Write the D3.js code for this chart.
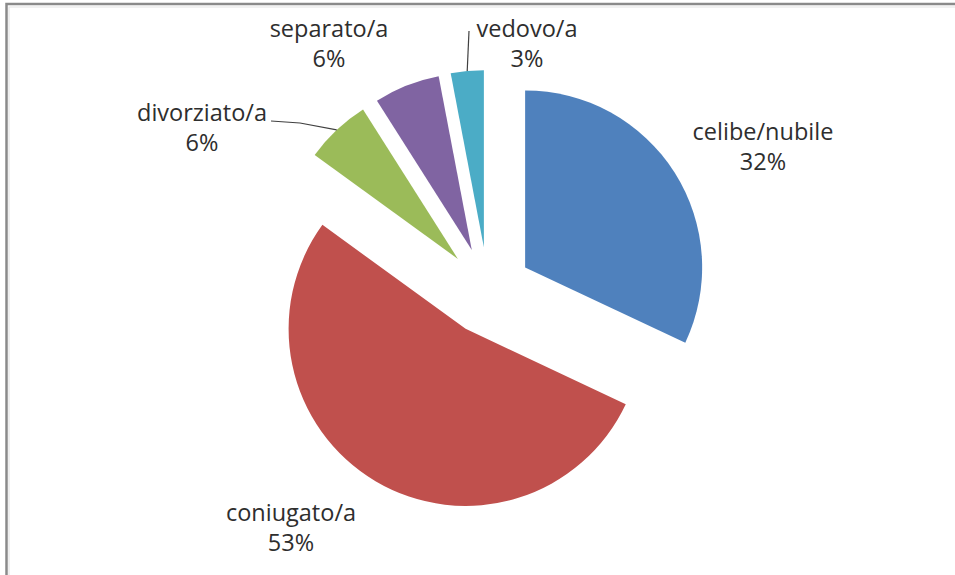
<!DOCTYPE html>
<html>
<head>
<meta charset="utf-8">
<script src="https://cdn.jsdelivr.net/npm/d3@7"></script>
<style>
  html, body { margin: 0; padding: 0; background: #fff; }
  svg { display: block; }
  .lbl { font-family: "Open Sans", "Noto Sans", sans-serif; font-size: 23.5px; fill: #2e2e2e; }
</style>
</head>
<body>
<svg id="chart" width="955" height="575"></svg>
<script>
// Stato civile: share of respondents (%)
const categories = ["celibe/nubile", "coniugato/a", "divorziato/a", "separato/a", "vedovo/a"];
const values = [32, 53, 6, 6, 3];
const colors = ["#4F81BD", "#C0504D", "#9BBB59", "#8064A2", "#4BACC6"];

// label layout: centre of each two-line label, and whether it gets a leader line
const labelLayout = [
  { x: 763, y: 132, leader: false },
  { x: 291, y: 513, leader: false },
  { x: 202, y: 113, leader: true, anchor: [271, 121], bend: [300, 123] },
  { x: 329, y: 29, leader: false },
  { x: 527, y: 29, leader: true, anchor: [469, 31] }
];

const W = 955, H = 575;
const cx = 488, cy = 291;      // pie centre
const radius = 177;
const explode = 44;            // every slice is pulled out along its bisector

const svg = d3.select("#chart");

// frame
svg.append("path")
  .attr("d", `M6.5,${H} V4 H${W}`)
  .attr("fill", "none")
  .attr("stroke", "#8a8a8a")
  .attr("stroke-width", 2.5);
svg.append("path")
  .attr("d", `M9,${H} V7 H${W}`)
  .attr("fill", "none")
  .attr("stroke", "#e4e4e4")
  .attr("stroke-width", 1.2);

const data = categories.map((c, i) => ({ name: c, value: values[i], color: colors[i], layout: labelLayout[i] }));

const pie = d3.pie().value(d => d.value).sort(null);
const arc = d3.arc().innerRadius(0).outerRadius(radius);
const arcs = pie(data);

function offset(a) {
  const m = (a.startAngle + a.endAngle) / 2;
  return [explode * Math.sin(m), -explode * Math.cos(m)];
}

const g = svg.append("g").attr("transform", `translate(${cx},${cy})`);

g.selectAll("path.slice")
  .data(arcs)
  .join("path")
  .attr("class", "slice")
  .attr("transform", a => { const [dx, dy] = offset(a); return `translate(${dx},${dy})`; })
  .attr("d", arc)
  .attr("fill", a => a.data.color);

// leader lines run from the label to the middle of the slice's outer edge
arcs.forEach(a => {
  const L = a.data.layout;
  if (!L.leader) return;
  const [dx, dy] = offset(a);
  const m = (a.startAngle + a.endAngle) / 2;
  const ex = cx + dx + radius * Math.sin(m);
  const ey = cy + dy - radius * Math.cos(m);
  const pts = [L.anchor];
  if (L.bend) pts.push(L.bend);
  pts.push([ex, ey]);
  svg.append("path")
    .attr("d", d3.line()(pts))
    .attr("fill", "none")
    .attr("stroke", "#404040")
    .attr("stroke-width", 1.2);
});

// labels: category name and percentage
const fmt = d3.format(".0%");
const total = d3.sum(values);
const lbl = svg.selectAll("text.lbl")
  .data(arcs)
  .join("text")
  .attr("class", "lbl")
  .attr("text-anchor", "middle")
  .attr("x", a => a.data.layout.x)
  .attr("y", a => a.data.layout.y);
lbl.append("tspan")
  .attr("x", a => a.data.layout.x)
  .attr("dy", "0.35em")
  .text(a => a.data.name);
lbl.append("tspan")
  .attr("x", a => a.data.layout.x)
  .attr("dy", 30)
  .text(a => fmt(a.data.value / total));
</script>
</body>
</html>
